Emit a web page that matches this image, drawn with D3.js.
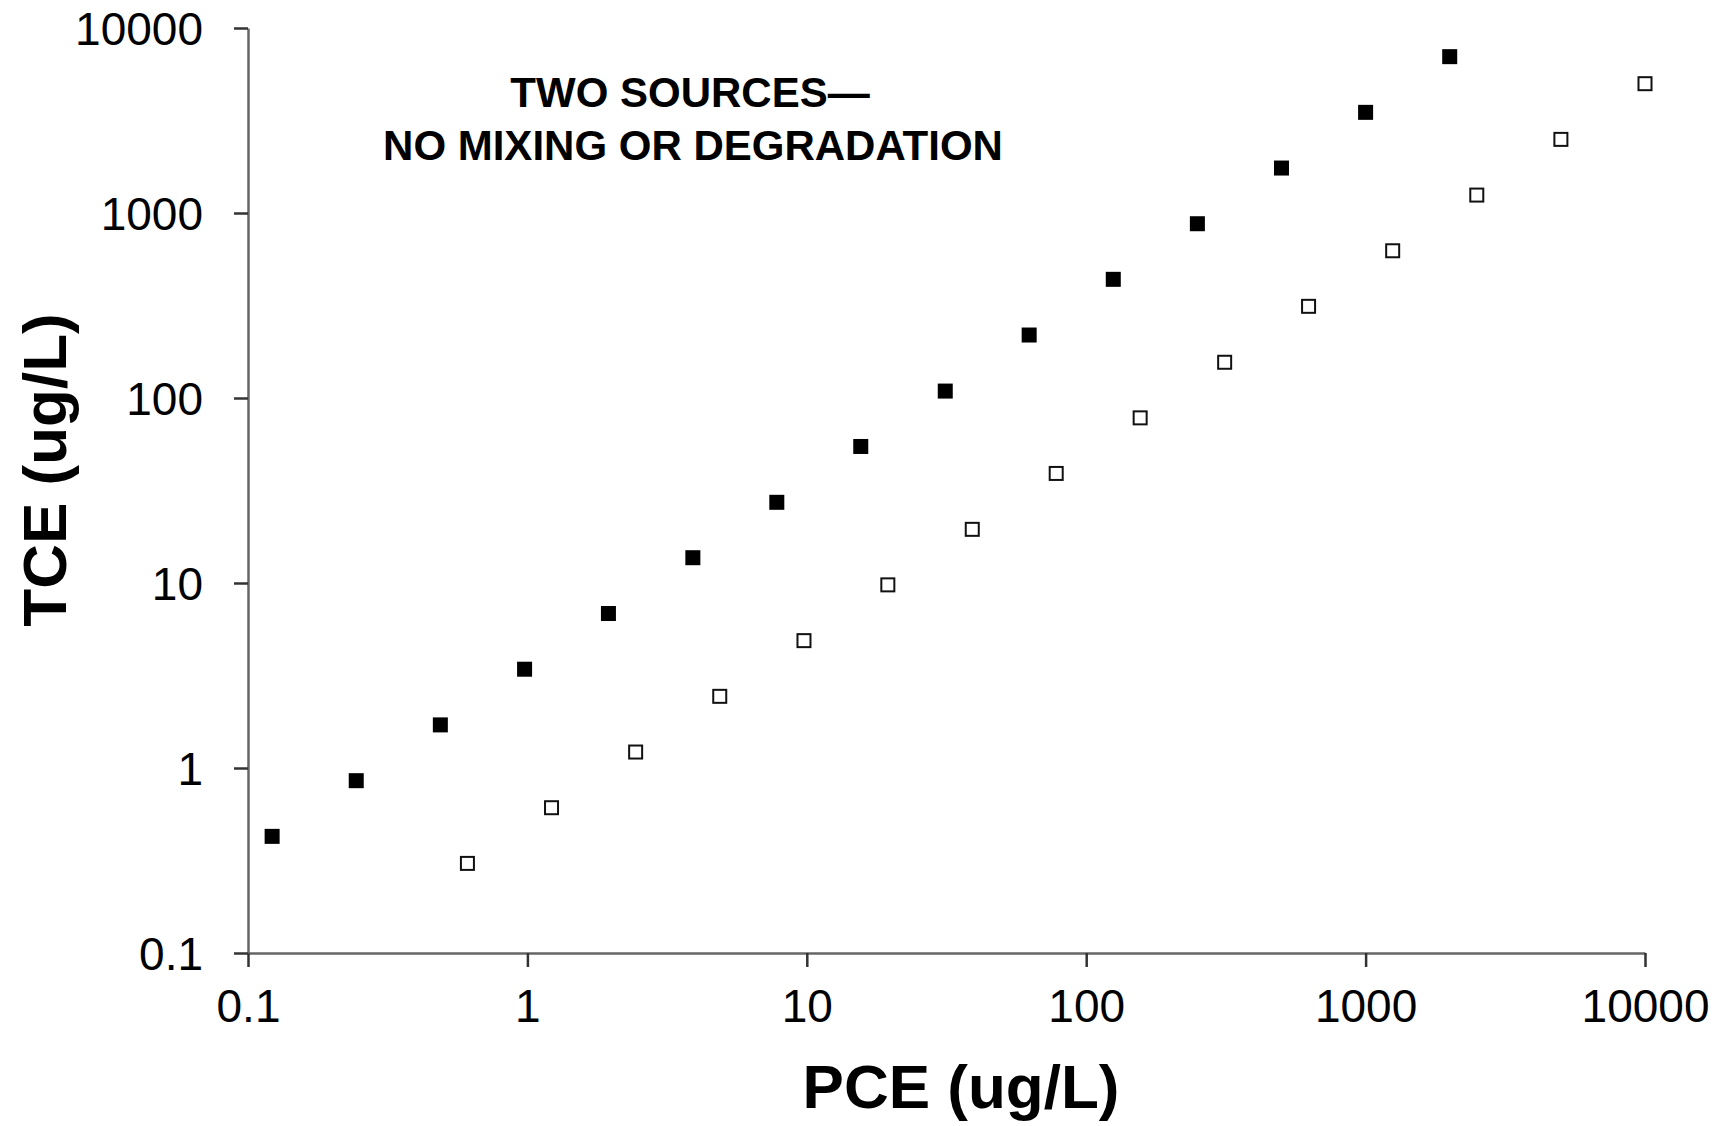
<!DOCTYPE html>
<html>
<head>
<meta charset="utf-8">
<script src="https://cdn.jsdelivr.net/npm/d3@7"></script>
<style>
  html, body { margin: 0; padding: 0; background: #fff; }
  svg { display: block; font-family: "Liberation Sans", Arial, sans-serif; }
</style>
</head>
<body>
<svg id="chart" width="1719" height="1126"></svg>
<script>
// Data
const filledPCE = [0.122, 0.244, 0.488, 0.977, 1.95, 3.91, 7.81, 15.6, 31.3, 62.5, 125, 250, 500, 1000, 2000];
const filledTCE = [0.427, 0.854, 1.71, 3.42, 6.84, 13.7, 27.3, 54.7, 109, 219, 438, 875, 1750, 3500, 7000];
const openPCE = [0.610, 1.22, 2.44, 4.88, 9.77, 19.5, 39.1, 78.1, 156, 313, 625, 1250, 2500, 5000, 10000];
const openTCE = [0.305, 0.610, 1.22, 2.44, 4.88, 9.77, 19.5, 39.1, 78.1, 156, 313, 625, 1250, 2500, 5000];
const tickValues = [0.1, 1, 10, 100, 1000, 10000];
const tickLabels = ["0.1", "1", "10", "100", "1000", "10000"];
const xTitle = "PCE (ug/L)";
const yTitle = "TCE (ug/L)";
const noteLines = ["TWO SOURCES\u2014", "NO MIXING OR DEGRADATION"];

(function () {
const svg = d3.select("#chart");
const mLeft = 248, mRight = 1645, mTop = 28, mBottom = 953;

const x = d3.scaleLog().domain([0.1, 10000]).range([mLeft, mRight]);
const y = d3.scaleLog().domain([0.1, 10000]).range([mBottom, mTop]);

const fmt = d => tickLabels[tickValues.indexOf(d)];

// X axis
const gx = svg.append("g").attr("transform", `translate(0,${mBottom})`)
  .call(d3.axisBottom(x).tickValues(tickValues).tickFormat(fmt).tickSize(14).tickSizeOuter(0).tickPadding(22));
// Y axis
const gy = svg.append("g").attr("transform", `translate(${mLeft},0)`)
  .call(d3.axisLeft(y).tickValues(tickValues).tickFormat(fmt).tickSize(14).tickSizeOuter(0).tickPadding(31));

[gx, gy].forEach(g => {
  g.select(".domain").attr("stroke", "#666").attr("stroke-width", 2.5);
  g.selectAll(".tick line").attr("stroke", "#333").attr("stroke-width", 2.5);
  g.selectAll(".tick text").attr("fill", "#000").style("font-size", "46px")
    .style("font-family", "'Liberation Sans', Arial, sans-serif");
});
gy.selectAll(".tick text").attr("dy", "0.36em");
gx.selectAll(".tick text").attr("dy", "0.71em");

// Markers
const sz = 15;
const filled = filledPCE.map((v, i) => ({ px: v, ty: filledTCE[i] }));
const open = openPCE.map((v, i) => ({ px: v, ty: openTCE[i] }));

svg.append("g").selectAll("rect").data(filled).join("rect")
  .attr("x", d => x(d.px) - sz / 2)
  .attr("y", d => y(d.ty) - sz / 2)
  .attr("width", sz).attr("height", sz)
  .attr("fill", "#000");

svg.append("g").selectAll("rect").data(open).join("rect")
  .attr("x", d => x(d.px) - (sz - 2) / 2)
  .attr("y", d => y(d.ty) - (sz - 2) / 2)
  .attr("width", sz - 2).attr("height", sz - 2)
  .attr("fill", "#fff").attr("stroke", "#111").attr("stroke-width", 2);

// Note
svg.append("text").attr("x", 690).attr("y", 107)
  .attr("text-anchor", "middle").style("font-size", "42px").style("font-weight", "bold")
  .text(noteLines[0]);
svg.append("text").attr("x", 693).attr("y", 160)
  .attr("text-anchor", "middle").style("font-size", "42px").style("font-weight", "bold")
  .text(noteLines[1]);

// Axis titles
svg.append("text").attr("x", 961).attr("y", 1108)
  .attr("text-anchor", "middle").style("font-size", "62px").style("font-weight", "bold")
  .text(xTitle);
svg.append("text").attr("transform", "translate(66,470) rotate(-90)")
  .attr("text-anchor", "middle").style("font-size", "62px").style("font-weight", "bold")
  .text(yTitle);
})();
</script>
</body>
</html>
